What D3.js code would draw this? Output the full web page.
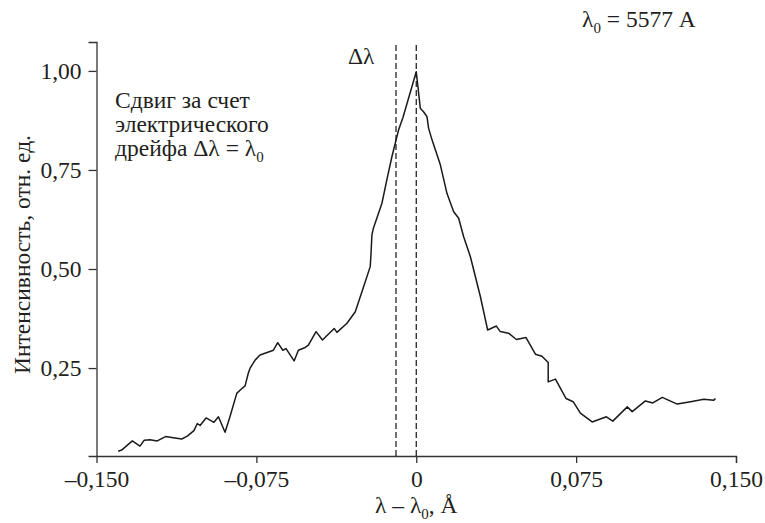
<!DOCTYPE html>
<html>
<head>
<meta charset="utf-8">
<script src="https://cdn.jsdelivr.net/npm/d3@7"></script>
<style>
  html, body { margin: 0; padding: 0; background: #fff; }
  svg { display: block; }
</style>
</head>
<body>
<svg id="chart" width="765" height="523"></svg>
<script>
// ---- data ----
const shiftX = [-0.1398,-0.1382,-0.1332,-0.1296,-0.1276,-0.1249,-0.1215,-0.1176,-0.1140,-0.1100,
  -0.1074,-0.1043,-0.1027,-0.1014,-0.0986,-0.0949,-0.0928,-0.0897,-0.0874,-0.0842,
  -0.0827,-0.0803,-0.0788,-0.0780,-0.0756,-0.0733,-0.0670,-0.0650,-0.0626,-0.0611,
  -0.0573,-0.0553,-0.0521,-0.0506,-0.0470,-0.0440,-0.0385,-0.0372,-0.0325,-0.0286,
  -0.0247,-0.0216,-0.0213,-0.0208,-0.0201,-0.0161,-0.0138,-0.0114,-0.0083,-0.0062,
  0.0000,0.0019,0.0034,0.0050,0.0058,0.0074,0.0113,0.0144,0.0175,0.0199,
  0.0222,0.0254,0.0301,0.0335,0.0376,0.0394,0.0433,0.0470,0.0515,0.0559,
  0.0590,0.0619,0.0619,0.0653,0.0703,0.0736,0.0770,0.0825,0.0892,0.0922,
  0.0990,0.1013,0.1075,0.1110,0.1154,0.1224,0.1287,0.1349,0.1396,0.1404];
const intensity = [0.040,0.043,0.066,0.053,0.068,0.069,0.066,0.077,0.074,0.071,
  0.078,0.092,0.110,0.105,0.124,0.113,0.127,0.088,0.127,0.186,
  0.194,0.205,0.237,0.249,0.270,0.283,0.295,0.314,0.295,0.299,
  0.268,0.295,0.302,0.308,0.342,0.321,0.350,0.340,0.363,0.392,
  0.455,0.506,0.531,0.586,0.603,0.666,0.725,0.784,0.851,0.883,
  0.998,0.906,0.897,0.885,0.855,0.826,0.763,0.691,0.645,0.628,
  0.582,0.531,0.430,0.346,0.356,0.342,0.338,0.322,0.327,0.285,
  0.280,0.264,0.215,0.222,0.173,0.165,0.136,0.114,0.127,0.116,
  0.152,0.140,0.167,0.162,0.176,0.159,0.165,0.171,0.169,0.173];
const xTicks = [-0.150, -0.075, 0, 0.075, 0.150];
const xTickLabels = ["–0,150", "–0,075", "0", "0,075", "0,150"];
const yTicks = [0.25, 0.50, 0.75, 1.00];
const yTickLabels = ["0,25", "0,50", "0,75", "1,00"];
const dashedLines = [-0.0095, 0];
const xDomain = [-0.150, 0.150];
const yDomain = [0.028, 1.073];

// ---- layout ----
const svg = d3.select("#chart");
const mLeft = 96.5, mRight = 736, mTop = 42, mBottom = 456;
const x = d3.scaleLinear().domain(xDomain).range([mLeft, mRight]);
const y = d3.scaleLinear().domain(yDomain).range([mBottom, mTop]);
const FS = 23.5;
const SUB = 15;
const FONT = "'Liberation Serif'";
const INK = "#231f20";

function styleText(sel) {
  return sel.attr("font-family", FONT).attr("font-size", FS).attr("fill", INK);
}

// x axis
const xAxis = d3.axisBottom(x)
  .tickValues(xTicks)
  .tickSizeOuter(0)
  .tickSize(7)
  .tickFormat((d, i) => xTickLabels[i]);
const gx = svg.append("g").attr("transform", `translate(0,${mBottom})`).call(xAxis);
gx.attr("font-family", FONT).attr("font-size", FS);
gx.select(".domain").attr("stroke", "#333").attr("stroke-width", 1.3);
gx.selectAll(".tick line").attr("stroke", "#333").attr("stroke-width", 1.3)
  .filter(d => d === -0.150).remove();
styleText(gx.selectAll(".tick text").attr("y", 31).attr("dy", 0));

// y axis
const yAxis = d3.axisLeft(y)
  .tickValues(yTicks)
  .tickSizeOuter(0)
  .tickSize(8)
  .tickFormat((d, i) => yTickLabels[i]);
const gy = svg.append("g").attr("transform", `translate(${mLeft},0)`).call(yAxis);
gy.attr("font-family", FONT).attr("font-size", FS);
gy.select(".domain").attr("stroke", "#333").attr("stroke-width", 1.3);
gy.selectAll(".tick line").attr("stroke", "#333").attr("stroke-width", 1.3);
styleText(gy.selectAll(".tick text").attr("x", -15).attr("dy", "0.32em"));

// dashed lines
svg.selectAll("line.dash").data(dashedLines).enter().append("line")
  .attr("class", "dash")
  .attr("x1", d => x(d)).attr("x2", d => x(d))
  .attr("y1", y(yDomain[0])).attr("y2", y(yDomain[1]))
  .attr("stroke", "#111").attr("stroke-width", 1.2)
  .attr("stroke-dasharray", "6,3");

// curve
const pts = shiftX.map((v, i) => [v, intensity[i]]);
svg.append("path").datum(pts)
  .attr("fill", "none").attr("stroke", "#1a1a1a").attr("stroke-width", 1.5)
  .attr("stroke-linejoin", "round")
  .attr("d", d3.line().x(d => x(d[0])).y(d => y(d[1])));

// texts
const t1 = styleText(svg.append("text").attr("x", 582).attr("y", 27));
t1.append("tspan").text("λ");
t1.append("tspan").attr("dy", 6).attr("font-size", SUB).text("0");
t1.append("tspan").attr("dy", -6).text(" = 5577 A");

styleText(svg.append("text").attr("x", 348).attr("y", 64)).text("Δλ");

const ann = ["Сдвиг за счет", "электрического"];
ann.forEach((s, i) => {
  styleText(svg.append("text").attr("x", 115).attr("y", 107.5 + i * 24)).text(s);
});
const t3 = styleText(svg.append("text").attr("x", 115).attr("y", 155.5));
t3.append("tspan").text("дрейфа Δλ = λ");
t3.append("tspan").attr("dy", 6).attr("font-size", SUB).text("0");

// axis titles
const xt = styleText(svg.append("text").attr("x", x(0)).attr("y", 513).attr("text-anchor", "middle"));
xt.append("tspan").text("λ – λ");
xt.append("tspan").attr("dy", 6).attr("font-size", SUB).text("0");
xt.append("tspan").attr("dy", -6).text(", Å");

styleText(svg.append("text")
  .attr("transform", `translate(30,254.5) rotate(-90)`)
  .attr("text-anchor", "middle"))
  .text("Интенсивность, отн. ед.");
</script>
</body>
</html>
